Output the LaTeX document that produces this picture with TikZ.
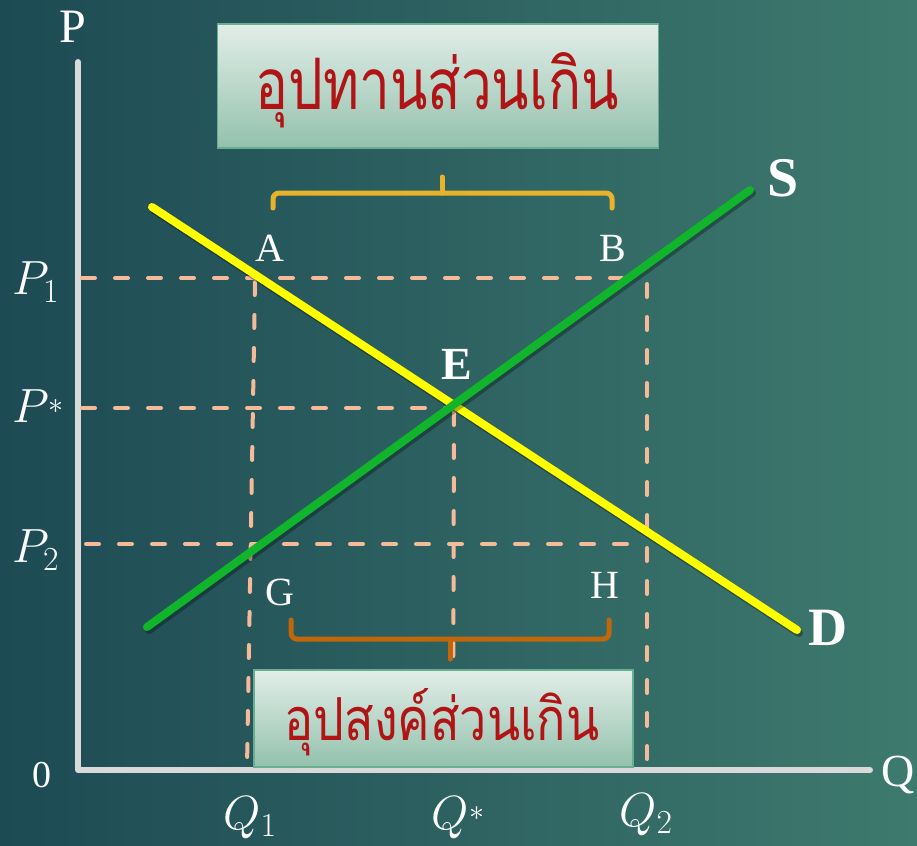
\RequirePackage{fix-cm}
\documentclass[tikz,border=0pt]{standalone}
\usepackage{graphicx}
\usepackage{fontspec}
\setmainfont{Liberation Serif}
\newfontfamily\thaifont[Script=Thai]{Loma}
\definecolor{bgL}{HTML}{1D4A54}
\definecolor{bgR}{HTML}{3E7A6E}
\definecolor{axisgray}{HTML}{D9D9D9}
\definecolor{dashc}{HTML}{F5BA9A}
\definecolor{demandc}{HTML}{FFFF00}
\definecolor{supplyc}{HTML}{10B52C}
\definecolor{boxtop}{HTML}{E2EEE8}
\definecolor{boxbot}{HTML}{93C1AD}
\definecolor{boxborder}{HTML}{6AAE92}
\definecolor{thaired}{HTML}{B01414}
\definecolor{topbr}{HTML}{E6B32A}
\definecolor{botbr}{HTML}{C0660B}
\newcommand{\mystar}{\raisebox{9pt}{\fontsize{30}{30}\selectfont$\ast$}}
\tikzset{
  axisline/.style={draw=axisgray, line width=6pt, line cap=round, line join=round},
  guide/.style={draw=dashc, line width=4pt, line cap=round, dash pattern=on 13pt off 20pt},
  curveline/.style={line width=8pt, line cap=round},
  shadowline/.style={line width=8pt, line cap=round, draw=black, opacity=0.3},
  ptlabel/.style={text=white, inner sep=0pt, font=\fontsize{40}{40}\selectfont},
  axlabel/.style={text=white, inner sep=0pt, font=\fontsize{46}{46}\selectfont},
  boldlabel/.style={text=white, inner sep=0pt, font=\fontsize{54}{54}\selectfont\bfseries},
  mathlabel/.style={text=white, inner sep=0pt, font=\fontsize{48}{48}\selectfont},
  thaibox/.style={draw=boxborder, line width=1.5pt, top color=boxtop, bottom color=boxbot, inner sep=0pt},
  thaitext/.style={text=thaired, inner sep=0pt, anchor=base},
  bracket/.style={line width=5pt, line cap=round, line join=round},
}
\begin{document}
\begin{tikzpicture}[x=1pt,y=-1pt]
\useasboundingbox (0,0) rectangle (917,845);
\shade[left color=bgL, right color=bgR] (0,0) rectangle (917,845);
% key points
\coordinate (O) at (78,770);
\coordinate (Ytop) at (78,62);
\coordinate (Xend) at (870,770);
\coordinate (P1l) at (82,278);  \coordinate (P1r) at (622,278);
\coordinate (Psl) at (82,408);  \coordinate (Psr) at (455,408);
\coordinate (P2l) at (86,544);  \coordinate (P2r) at (628,544);
\coordinate (Q1t) at (255,282); \coordinate (Q1b) at (247,768);
\coordinate (Qst) at (454,412); \coordinate (Qsb) at (453,768);
\coordinate (Q2t) at (647,284); \coordinate (Q2b) at (647,768);
\coordinate (Dst) at (152,207); \coordinate (Den) at (797,630);
\coordinate (Sst) at (147,627); \coordinate (Sen) at (750,190);
% axes
\draw[axisline] (Ytop) -- (O) -- (Xend);
% guides
\draw[guide] (P1l) -- (P1r);
\draw[guide] (Psl) -- (Psr);
\draw[guide] (P2l) -- (P2r);
\draw[guide] (Q1t) -- (Q1b);
\draw[guide] (Qst) -- (Qsb);
\draw[guide] (Q2t) -- (Q2b);
% curves
\draw[shadowline] ([shift={(2,3)}]Dst) -- ([shift={(2,3)}]Den);
\draw[curveline, draw=demandc] (Dst) -- (Den);
\draw[shadowline] ([shift={(2,3)}]Sst) -- ([shift={(2,3)}]Sen);
\draw[curveline, draw=supplyc] (Sst) -- (Sen);
% boxes
\node[thaibox, minimum width=441pt, minimum height=124pt] (topbox) at (438,86) {};
\node[thaitext] (toptext) at (437,110)
  {\resizebox{363pt}{57pt}{\thaifont อุปทานส่วนเกิน}};
\node[thaibox, minimum width=379pt, minimum height=97pt] (botbox) at (443.5,718.5) {};
\node[thaitext] (bottext) at (442,740)
  {\resizebox{315pt}{52pt}{\thaifont อุปสงค์ส่วนเกิน}};
% brackets
\coordinate (tbL) at (273,208); \coordinate (tbR) at (612,208);
\coordinate (tbM) at (442,193); \coordinate (tbT) at (442,177);
\draw[bracket, draw=topbr, rounded corners=6pt] (tbL) -- (273,193) -- (612,193) -- (tbR);
\draw[bracket, draw=topbr] (tbM) -- (tbT);
\coordinate (bbL) at (291,620); \coordinate (bbR) at (609,620);
\coordinate (bbM) at (450,639); \coordinate (bbT) at (450,659);
\draw[bracket, draw=botbr, rounded corners=6pt] (bbL) -- (291,639) -- (609,639) -- (bbR);
\draw[bracket, draw=botbr] (bbM) -- (bbT);
% labels
\node[axlabel, font=\fontsize{48}{48}\selectfont] (Plab) at (73,27) {P};
\node[axlabel] (Qlab) at (898,775) {Q};
\node[ptlabel, font=\fontsize{38}{38}\selectfont] (zero) at (42,775) {0};
\node[ptlabel] (A) at (270,248) {A};
\node[ptlabel] (B) at (613,248) {B};
\node[ptlabel] (G) at (280,592) {G};
\node[ptlabel] (H) at (605,585) {H};
\node[boldlabel, font=\fontsize{46}{46}\selectfont\bfseries] (E) at (457,364) {E};
\node[boldlabel, font=\fontsize{56}{56}\selectfont\bfseries] (S) at (783,178) {S};
\node[boldlabel] (D) at (828,628) {D};
\node[mathlabel] (P1) at (36,282) {$P_1$};
\node[mathlabel] (Ps) at (38,406) {$P$\mystar};
\node[mathlabel] (P2) at (36,550) {$P_2$};
\node[mathlabel] (Q1) at (250,818) {$Q_1$};
\node[mathlabel] (Qs) at (458,818) {$Q$\mystar};
\node[mathlabel] (Q2) at (646,815) {$Q_2$};
\end{tikzpicture}
\end{document}
